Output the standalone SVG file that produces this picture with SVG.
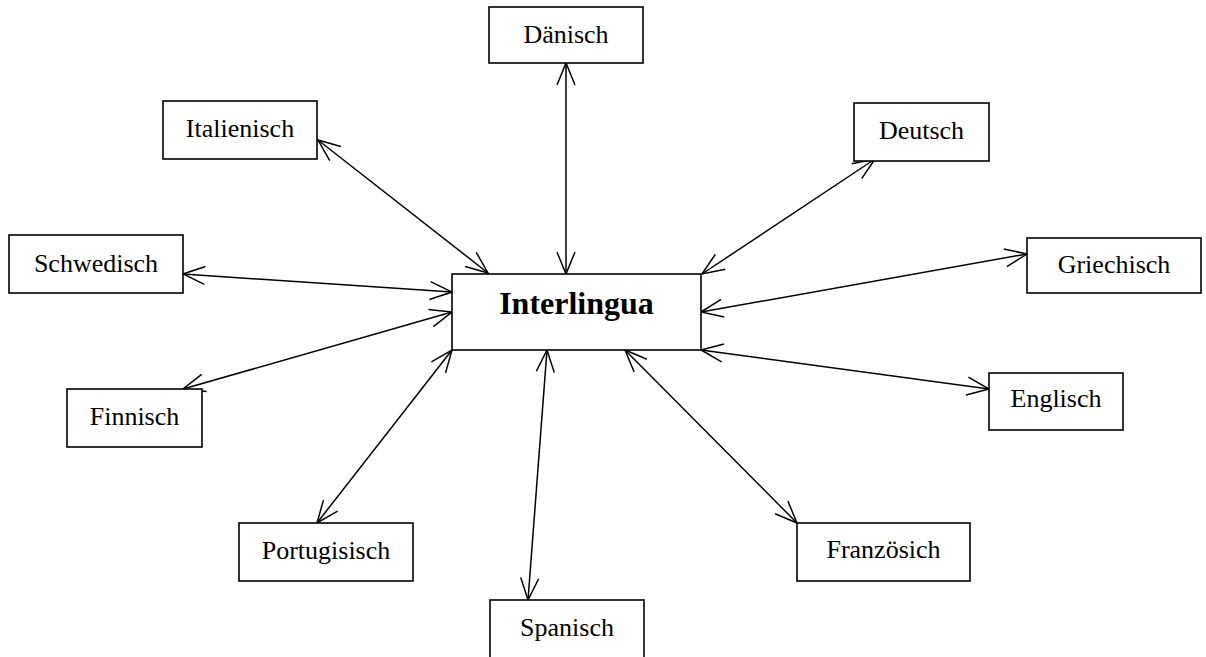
<svg xmlns="http://www.w3.org/2000/svg" width="1206" height="657" viewBox="0 0 1206 657">
<style>
.box{fill:#fff;stroke:#000;stroke-width:1.6}
.lbl{font-family:"Liberation Serif","Times New Roman",serif;font-size:26px;fill:#000;text-anchor:middle}
.main{font-size:32px;font-weight:bold}
.conn line{stroke:#000;stroke-width:1.5;marker-start:url(#ah);marker-end:url(#ah)}
</style>
<defs>
<marker id="ah" markerUnits="userSpaceOnUse" viewBox="-24 -11 26 22" markerWidth="26" markerHeight="22" refX="0" refY="0" orient="auto-start-reverse">
<path d="M-22,-9 L0,0 L-22,9" fill="none" stroke="#000" stroke-width="1.5"/>
</marker>
</defs>
<rect width="1206" height="657" fill="#fff"/>
<g id="connectors" class="conn">
<line x1="566" y1="274" x2="566" y2="63"/>
<line x1="488" y1="273" x2="318" y2="140"/>
<line x1="452" y1="292" x2="183" y2="274"/>
<line x1="452" y1="312" x2="183" y2="389"/>
<line x1="702" y1="274" x2="875" y2="159"/>
<line x1="701" y1="312" x2="1027" y2="254"/>
<line x1="701" y1="350" x2="989" y2="389"/>
<line x1="625" y1="350" x2="797" y2="523"/>
<line x1="547" y1="350" x2="528" y2="600"/>
<line x1="452" y1="350" x2="317" y2="523"/>
</g>
<g id="interlingua"><rect class="box" x="452" y="274" width="249" height="76"/><text class="lbl main" x="576.5" y="314">Interlingua</text></g>
<g id="daenisch"><rect class="box" x="489" y="7" width="154" height="56"/><text class="lbl" x="566" y="43">Dänisch</text></g>
<g id="italienisch"><rect class="box" x="163" y="101" width="154" height="58"/><text class="lbl" x="240" y="137">Italienisch</text></g>
<g id="deutsch"><rect class="box" x="854" y="103" width="135" height="58"/><text class="lbl" x="921.5" y="139">Deutsch</text></g>
<g id="schwedisch"><rect class="box" x="9" y="235" width="174" height="58"/><text class="lbl" x="96" y="272">Schwedisch</text></g>
<g id="griechisch"><rect class="box" x="1027" y="238" width="174" height="55"/><text class="lbl" x="1114" y="273">Griechisch</text></g>
<g id="finnisch"><rect class="box" x="67" y="389" width="135" height="58"/><text class="lbl" x="134.5" y="425">Finnisch</text></g>
<g id="englisch"><rect class="box" x="989" y="373" width="134" height="57"/><text class="lbl" x="1056" y="407">Englisch</text></g>
<g id="portugisisch"><rect class="box" x="239" y="523" width="174" height="58"/><text class="lbl" x="326" y="559">Portugisisch</text></g>
<g id="franzoesich"><rect class="box" x="797" y="523" width="173" height="58"/><text class="lbl" x="883.5" y="558">Französich</text></g>
<g id="spanisch"><rect class="box" x="490" y="600" width="154" height="62"/><text class="lbl" x="567" y="636">Spanisch</text></g>
</svg>
